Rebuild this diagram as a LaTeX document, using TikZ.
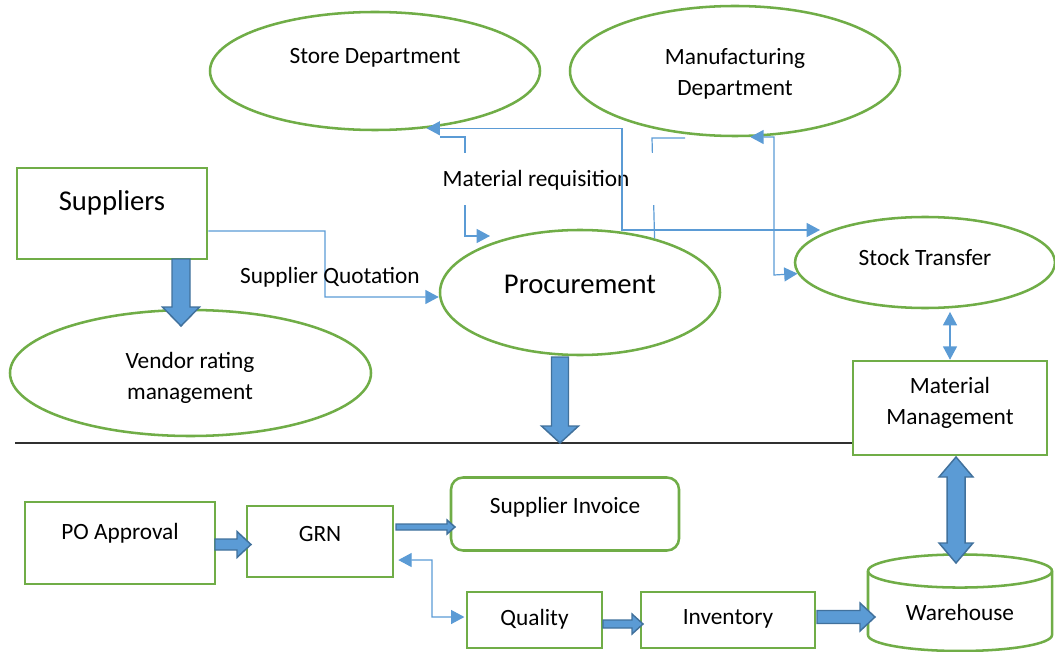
\documentclass[tikz,border=0pt]{standalone}
\usepackage{fontspec}
\setmainfont{Carlito}
\usetikzlibrary{shapes.geometric,arrows.meta,calc}
\definecolor{grn}{HTML}{70AD47}
\definecolor{lblue}{HTML}{5B9BD5}
\definecolor{dblue}{HTML}{41719C}
\definecolor{hl}{HTML}{303030}

% helper: measure a segment between two coordinates
\newcommand\fatsetup[2]{%
  \path let \p1=(#1),\p2=(#2) in \pgfextra{%
    \pgfmathsetmacro\faangtmp{atan2(\y2-\y1,\x2-\x1)}%
    \pgfmathsetmacro\falentmp{veclen(\x2-\x1,\y2-\y1)}%
    \xdef\faang{\faangtmp}\xdef\falen{\falentmp}\xdef\fax{\x1}\xdef\fay{\y1}};}
% block arrow: from, to, shaft half width (px), head half width (px), head length (px)
\newcommand\fatarrow[5]{%
  \fatsetup{#1}{#2}%
  \begin{scope}[shift={(\fax,\fay)},rotate=\faang]
    \draw[fat] (0pt,{#3*0.75pt}) -- ({\falen pt-#5*0.75pt},{#3*0.75pt})
      -- ({\falen pt-#5*0.75pt},{#4*0.75pt}) -- (\falen pt,0pt)
      -- ({\falen pt-#5*0.75pt},{-#4*0.75pt}) -- ({\falen pt-#5*0.75pt},{-#3*0.75pt})
      -- (0pt,{-#3*0.75pt}) -- cycle;
  \end{scope}}
\newcommand\fatdarrow[5]{%
  \fatsetup{#1}{#2}%
  \begin{scope}[shift={(\fax,\fay)},rotate=\faang]
    \draw[fat] (0pt,0pt) -- ({#5*0.75pt},{#4*0.75pt}) -- ({#5*0.75pt},{#3*0.75pt})
      -- ({\falen pt-#5*0.75pt},{#3*0.75pt})
      -- ({\falen pt-#5*0.75pt},{#4*0.75pt}) -- (\falen pt,0pt)
      -- ({\falen pt-#5*0.75pt},{-#4*0.75pt}) -- ({\falen pt-#5*0.75pt},{-#3*0.75pt})
      -- ({#5*0.75pt},{-#3*0.75pt}) -- ({#5*0.75pt},{-#4*0.75pt}) -- cycle;
  \end{scope}}

\begin{document}
\begin{tikzpicture}[x=0.75pt,y=-0.75pt,
  box/.style={draw=grn, line width=1.9pt, rectangle, inner sep=0pt, fill=white},
  oval/.style={draw=grn, line width=1.9pt, ellipse, inner sep=0pt, fill=white},
  txt/.style={font=\fontsize{17.5}{23.25}\selectfont, align=center, inner sep=0pt},
  big/.style={font=\fontsize{21.5}{26}\selectfont, inner sep=0pt},
  thinline/.style={draw=lblue, line width=0.9pt},
  tip/.style={-{Triangle[length=10pt,width=10.5pt]}},
  twotip/.style={{Triangle[length=10pt,width=10.5pt]}-{Triangle[length=10pt,width=10.5pt]}},
  fat/.style={fill=lblue, draw=dblue, line width=1.1pt, line join=miter},
  hline/.style={draw=hl, line width=1pt}]
\useasboundingbox (0,0) rectangle (1055,652);

% ---------- upper part ----------
\node[oval, minimum width=247.5pt, minimum height=88.5pt] (store) at (375,71) {};
\node[txt] (storet) at (375,58) {Store Department};
\node[oval, minimum width=247.5pt, minimum height=97.5pt] (manuf) at (735,71) {};
\node[txt] (manuft) at (735,74) {Manufacturing\\Department};
\node[box, minimum width=142.5pt, minimum height=68.25pt] (sup) at (112,213.5) {};
\node[big] (supt) at (112,203) {Suppliers};
\node[oval, minimum width=270.75pt, minimum height=94.5pt] (vendor) at (190.5,373) {};
\node[txt] (vendort) at (190,378) {Vendor rating\\management};
\node[oval, minimum width=210pt, minimum height=93.75pt] (proc) at (580,292.5) {};
\node[big] (proct) at (580,284) {Procurement};
\node[oval, minimum width=195pt, minimum height=68.25pt] (stock) at (925,262.5) {};
\node[txt] (stockt) at (925,257) {Stock Transfer};
\node[box, minimum width=145.5pt, minimum height=70.5pt] (mm) at (950,408) {};
\node[txt] (mmt) at (950,403) {Material\\Management};

% separator line
\coordinate (sepstart) at (15,443);
\draw[hline] (sepstart) -- (sepstart -| mm.west);

% ---------- lower part ----------
\node[box, minimum width=142.5pt, minimum height=61.5pt] (po) at (120,543) {};
\node[txt] (pot) at (120,533) {PO Approval};
\node[box, minimum width=109.5pt, minimum height=53.25pt] (grn) at (320,541.5) {};
\node[txt] (grnt) at (320,534) {GRN};
\node[box, rounded corners=9pt, minimum width=171pt, minimum height=54.75pt] (si) at (565,514) {};
\node[txt] (sit) at (565,507) {Supplier Invoice};
\node[box, minimum width=101.25pt, minimum height=42pt] (qual) at (534.5,620) {};
\node[txt] (qualt) at (534.5,619) {Quality};
\node[box, minimum width=130.5pt, minimum height=42pt] (inv) at (728,620) {};
\node[txt] (invt) at (728,619) {Inventory};

% warehouse cylinder
\draw[draw=grn, line width=1.9pt, fill=white] (868,571) -- (868,635)
  arc[start angle=180, end angle=360, x radius=69pt, y radius=12pt] -- (1052,571)
  arc[start angle=0, end angle=180, x radius=69pt, y radius=12.4pt] -- cycle;
\draw[draw=grn, line width=1.9pt] (868,571)
  arc[start angle=180, end angle=360, x radius=69pt, y radius=12.4pt];
\node[txt] (wh) at (960,612) {Warehouse};

% ---------- thin connectors ----------
% supplier quotation
\draw[thinline, tip] ([yshift=-13.1pt]sup.east) -- (325,231) -- (325,297) -- (proc.west |- 0,297);
\node[txt] (sq) at (330,277) {Supplier Quotation};

% material requisition lines
\coordinate (mrs) at (440,137);
\coordinate (mre) at (490,236);
\draw[thinline, tip] (mrs) -- (465,137) -- (465,236) -- (mre);
\draw[thinline] (685,138) -- (652,138) -- (proc.36.7);
\fill[white] (435,153) rectangle (662,205);
\node[txt] (mrq) at (536,180) {Material requisition};

% store <-> stock transfer
\coordinate (st1) at (820,230);
\draw[thinline, twotip] (store.-48.3) -| (622,230) -- (st1);
% manufacturing <-> stock transfer
\draw[thinline, twotip] (manuf.-77) -| (774,275) -- (stock.185.7);
% stock transfer <-> material management
\draw[thinline, twotip] ([yshift=-2pt]stock.south -| mm.north) -- (mm.north);
% GRN <-> quality
\draw[thinline, twotip] ([xshift=3pt,yshift=-13.9pt]grn.east) -- (432,560) -- (432,617) -- ([xshift=-1pt]qual.west |- 0,617);

% ---------- block arrows ----------
\coordinate (f1a) at (181,259);  \coordinate (f1b) at (181,326);
\coordinate (f2a) at (560,357);  \coordinate (f2b) at (560,443);
\coordinate (f3a) at (215,544.5);\coordinate (f3b) at (251,544.5);
\coordinate (f4a) at (396,527);  \coordinate (f4b) at (455,527);
\coordinate (f5a) at (603,624);  \coordinate (f5b) at (643,624);
\coordinate (f6a) at (817,617);  \coordinate (f6b) at (875,617);
\coordinate (f7a) at (956,457);  \coordinate (f7b) at (956,563);
\fatarrow{f1a}{f1b}{9}{18.5}{19}
\fatarrow{f2a}{f2b}{8.5}{18.5}{17}
\fatarrow{f3a}{f3b}{5.5}{13}{14}
\fatarrow{f4a}{f4b}{3}{7}{8}
\fatarrow{f5a}{f5b}{4}{10}{11}
\fatarrow{f6a}{f6b}{6.5}{14}{15}
\fatdarrow{f7a}{f7b}{9}{17}{20}
\end{tikzpicture}
\end{document}
